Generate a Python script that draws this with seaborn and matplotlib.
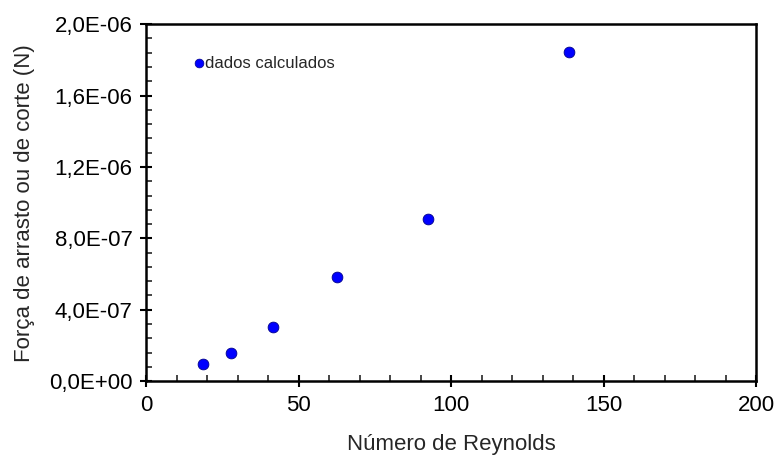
import numpy as np
import pandas as pd
import matplotlib
matplotlib.use("Agg")
import matplotlib.pyplot as plt
from matplotlib.ticker import MultipleLocator, FuncFormatter
import seaborn as sns

# dados
reynolds = [18.5, 27.8, 41.6, 62.4, 92.4, 138.6]
forca = [0.95e-7, 1.59e-7, 3.01e-7, 5.83e-7, 9.11e-7, 1.843e-6]

df = pd.DataFrame({"Re": reynolds, "F": forca})

sns.set_style("white")
plt.rcParams['font.family'] = ['Liberation Sans', 'DejaVu Sans']

fig = plt.figure(figsize=(7.75, 4.57), dpi=100)
ax = fig.add_axes([0.189, 0.166, 0.7865, 0.781])

sns.scatterplot(data=df, x="Re", y="F", ax=ax, color="#0000ff", s=60,
                edgecolor="#00008b", linewidth=0.6, zorder=3)

ax.set_xlim(0, 200)
ax.set_ylim(0, 2.0e-6)
ax.xaxis.set_major_locator(MultipleLocator(50))
ax.xaxis.set_minor_locator(MultipleLocator(10))
ax.yaxis.set_major_locator(MultipleLocator(4e-7))
ax.yaxis.set_minor_locator(MultipleLocator(8e-8))

def fmt(v, pos):
    s = "%.1E" % v
    return s.replace(".", ",")

ax.yaxis.set_major_formatter(FuncFormatter(fmt))
ax.xaxis.set_major_formatter(FuncFormatter(lambda v, p: "%d" % v))

ax.tick_params(which="major", direction="inout", length=8, width=1.5,
               labelsize=16, colors="black", pad=6)
ax.tick_params(which="minor", direction="in", length=4, width=1.2)
ax.tick_params(axis="both", which="both", bottom=True, left=True, top=False, right=False)

for sp in ax.spines.values():
    sp.set_linewidth(1.8)
    sp.set_color("black")

ax.set_xlabel("Número de Reynolds", fontsize=16, labelpad=13)
ax.set_ylabel("Força de arrasto ou de corte (N)", fontsize=16, labelpad=10)

ax.scatter([0.086], [0.89], transform=ax.transAxes, color="#0000ff", s=40,
           edgecolor="#00008b", linewidth=0.5)
ax.text(0.096, 0.89, "dados calculados", transform=ax.transAxes,
        fontsize=12, va="center", ha="left")

fig.savefig("out.png", dpi=100)
